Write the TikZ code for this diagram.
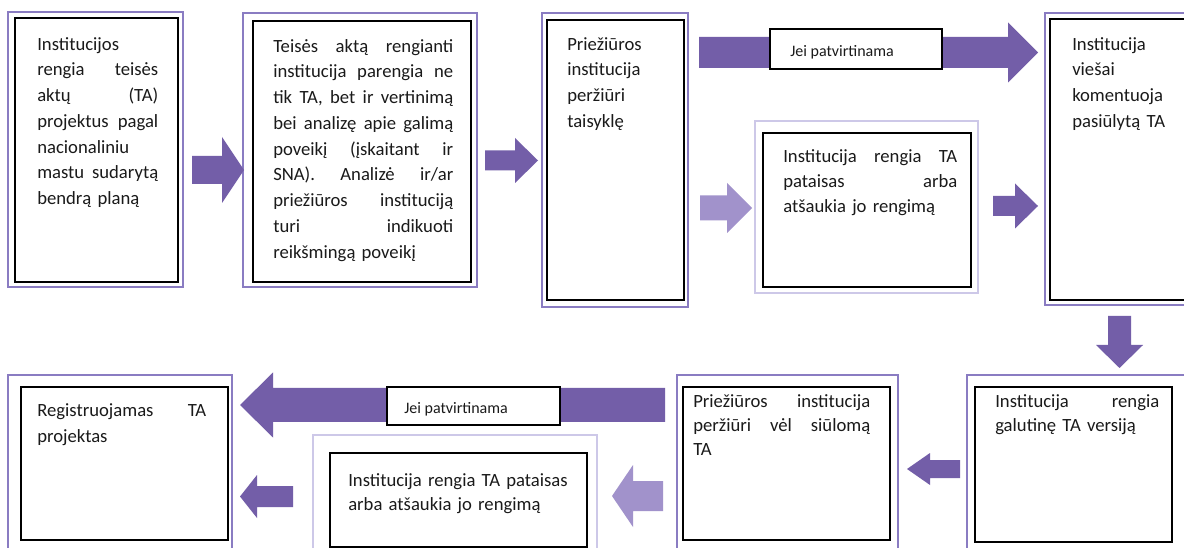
\documentclass[tikz,border=0pt]{standalone}
\usepackage{fontspec}
\setmainfont{Carlito}
\definecolor{arrowdark}{HTML}{735EA8}
\definecolor{arrowlight}{HTML}{A192CB}
\definecolor{framepurple}{HTML}{8A7CC2}
\definecolor{framelight}{HTML}{CDC8E8}
\definecolor{inktext}{HTML}{1A1A1A}

% rectangle node from its corners (in pixel units)
\newcommand\frm[6]{\node[#1, minimum width={(#5-#3)*0.75pt}, minimum height={(#6-#4)*0.75pt}] (#2) at ({(#3+#5)/2},{(#4+#6)/2}) {};}
% block text: [options] name, left x, first baseline, width, content
\newcommand\btext[6][]{\node[btxt, #1, text width={#5*0.75pt}, anchor=north west] (#2) at (#3,{#4-16}) {\rule{0pt}{12pt}#6};}
% horizontal block arrow: style, shaft end, head base, tip, centre y, shaft half, head half
\newcommand\harr[7]{\fill[#1] (#2,{#5-#6}) -- (#3,{#5-#6}) -- (#3,{#5-#7}) -- (#4,#5) -- (#3,{#5+#7}) -- (#3,{#5+#6}) -- (#2,{#5+#6}) -- cycle;}
% vertical block arrow: style, shaft end, head base, tip, centre x, shaft half, head half
\newcommand\varr[7]{\fill[#1] ({#5-#6},#2) -- ({#5-#6},#3) -- ({#5-#7},#3) -- (#5,#4) -- ({#5+#7},#3) -- ({#5+#6},#3) -- ({#5+#6},#2) -- cycle;}

\begin{document}
\begin{tikzpicture}[x=0.75pt,y=-0.75pt,
  outerfr/.style={draw=framepurple, line width=2pt, inner sep=0pt, outer sep=0pt},
  lightfr/.style={draw=framelight, line width=2pt, inner sep=0pt, outer sep=0pt},
  innerfr/.style={draw=black, line width=1.5pt, fill=white, inner sep=0pt, outer sep=0pt},
  lblfr/.style={draw=black, line width=1.1pt, fill=white, inner sep=0pt, outer sep=0pt},
  btxt/.style={inner sep=0pt, align=left, text=inktext, font=\fontsize{14}{19.3}\selectfont},
  tight/.style={font=\fontsize{14}{18}\selectfont},
  lbltxt/.style={inner sep=0pt, anchor=base west, text=inktext, font=\fontsize{12}{14}\selectfont},
  darkarr/.style={fill=arrowdark},
  lightarr/.style={fill=arrowlight}]
\useasboundingbox (0,0) rectangle (1184,548);
\clip (0,0) rectangle (1184,548);
\fill[white] (0,0) rectangle (1184,548);

% ---- upper row frames
\frm{outerfr}{b1o}{8}{12}{183}{287}
\frm{innerfr}{b1i}{15}{18}{178}{282}
\frm{outerfr}{b2o}{243}{13}{477}{287}
\frm{innerfr}{b2i}{253}{21}{471}{282}
\frm{outerfr}{b3o}{542}{13}{688}{307}
\frm{innerfr}{b3i}{547}{20}{684}{300}
\frm{lightfr}{b4o}{755}{121}{978}{293}
\frm{innerfr}{b4i}{763}{133}{971}{287}
\frm{outerfr}{b5o}{1045}{13}{1200}{305}
\frm{innerfr}{b5i}{1050}{19}{1195}{300}

% ---- lower row frames
\frm{outerfr}{b6o}{967}{375}{1200}{560}
\frm{innerfr}{b6i}{975}{387}{1172}{542}
\frm{outerfr}{b7o}{677}{375}{898}{560}
\frm{innerfr}{b7i}{683}{387}{890}{540}
\frm{lightfr}{b8o}{313}{435}{597}{560}
\frm{innerfr}{b8i}{330}{453}{587}{547}
\frm{outerfr}{b9o}{8}{375}{232}{560}
\frm{innerfr}{b9i}{21}{387}{228}{540}

% ---- block arrows
\harr{darkarr}{192}{222}{244}{170}{14}{33}
\harr{darkarr}{485}{515}{538}{160.5}{10}{22.5}
\harr{lightarr}{700}{727}{752}{208}{12.5}{25}
\harr{darkarr}{993}{1015}{1038}{206}{10}{22.5}
\harr{darkarr}{699}{1008}{1038}{52.5}{15.5}{30}
\varr{darkarr}{316}{345}{368}{1119.5}{11.5}{23.5}
\harr{darkarr}{960}{930}{907}{469}{9}{16}
\harr{darkarr}{665}{273}{240}{405}{17}{32.5}
\harr{lightarr}{663}{633}{612}{496}{15}{31}
\harr{darkarr}{293}{257}{240}{496.5}{10.5}{21.5}

% ---- condition labels on the long arrows
\frm{lblfr}{l1}{770}{29}{942}{69}
\node[lbltxt] (l1t) at (790,57) {Jei patvirtinama};
\frm{lblfr}{l2}{387}{387}{560}{425}
\node[lbltxt] (l2t) at (404,413) {Jei patvirtinama};

% ---- box texts
\btext{t1}{37}{50}{121}{Institucijos\\
rengia\hfill teisės\\
aktų\hfill (TA)\\
projektus\hfill pagal\\
nacionaliniu\\
mastu\hfill sudarytą\\
bendrą planą}

\btext{t2}{273}{52}{180}{Teisės\hfill aktą\hfill rengianti\\
institucija\hfill parengia\hfill ne\\
tik\hfill TA,\hfill bet\hfill ir\hfill vertinimą\\
bei\hfill analizę\hfill apie\hfill galimą\\
poveikį\hfill (įskaitant\hfill ir\\
SNA).\hfill Analizė\hfill ir/ar\\
priežiūros\hfill instituciją\\
turi\hfill indikuoti\\
reikšmingą poveikį}

\btext{t3}{567}{50}{110}{Priežiūros\\
institucija\\
peržiūri\\
taisyklę}

\btext[font=\fontsize{14}{19}\selectfont]{t4}{783}{162}{174}{Institucija\hfill rengia\hfill TA\\
pataisas\hfill arba\\
atšaukia jo rengimą}

\btext{t5}{1072}{50}{100}{Institucija\\
viešai\\
komentuoja\\
pasiūlytą TA}

\btext[tight]{t6}{995}{407}{164}{Institucija\hfill rengia\\
galutinę TA versiją}

\btext[tight]{t7}{693}{407}{177}{Priežiūros\hfill institucija\\
peržiūri\hfill vėl\hfill siūlomą\\
TA}

\btext[tight]{t8}{348}{486}{230}{Institucija rengia TA pataisas\\
arba atšaukia jo rengimą}

\btext{t9}{37}{416}{169}{Registruojamas\hfill TA\\
projektas}
\end{tikzpicture}
\end{document}
